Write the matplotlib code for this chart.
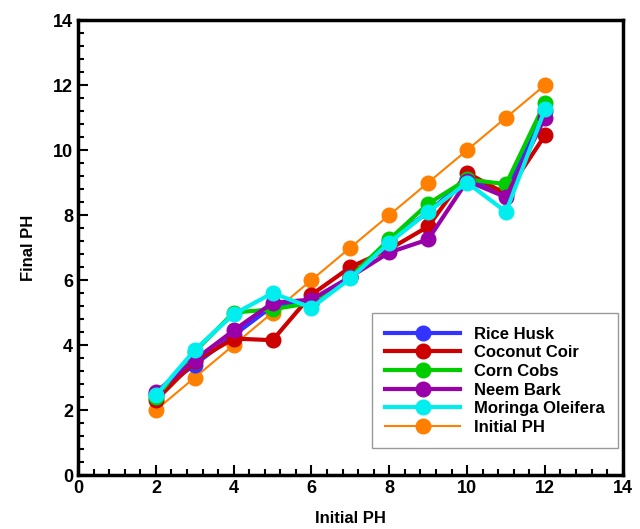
import matplotlib.pyplot as plt
from matplotlib.ticker import MultipleLocator

plt.rcParams["font.family"] = ["Liberation Sans", "DejaVu Sans"]
plt.rcParams["font.weight"] = "bold"

initial_ph = [2, 3, 4, 5, 6, 7, 8, 9, 10, 11, 12]

rice_husk = [2.5, 3.4, 4.3, 5.2, 5.3, 6.1, 7.2, 8.1, 9.1, 8.7, 11.2]
coconut_coir = [2.3, 3.5, 4.2, 4.15, 5.55, 6.4, 6.95, 7.65, 9.3, 8.65, 10.45]
corn_cobs = [2.4, 3.8, 5.0, 5.1, 5.3, 6.1, 7.25, 8.35, 9.1, 8.95, 11.45]
neem_bark = [2.55, 3.55, 4.45, 5.3, 5.4, 6.1, 6.85, 7.25, 9.05, 8.55, 11.0]
moringa_oleifera = [2.45, 3.85, 4.95, 5.6, 5.15, 6.05, 7.15, 8.1, 9.0, 8.1, 11.25]

series = [
    ("Rice Husk", rice_husk, "#3333ff"),
    ("Coconut Coir", coconut_coir, "#cc0000"),
    ("Corn Cobs", corn_cobs, "#00cc00"),
    ("Neem Bark", neem_bark, "#9900aa"),
    ("Moringa Oleifera", moringa_oleifera, "#00eeee"),
]

fig = plt.figure(figsize=(6.4, 5.29), dpi=100)
ax = fig.add_axes([0.122, 0.102, 0.851, 0.86])

for name, vals, col in series:
    ax.plot(initial_ph, vals, "-o", color=col, lw=3, ms=10.5, label=name, zorder=3)

# line of equality (initial pH)
ax.plot(initial_ph, initial_ph, "-o", color="#ff8000", lw=1.5, ms=10.5,
        label="Initial PH", zorder=2)

ax.set_xlim(0, 14)
ax.set_ylim(0, 14)
ax.xaxis.set_major_locator(MultipleLocator(2))
ax.yaxis.set_major_locator(MultipleLocator(2))
ax.xaxis.set_minor_locator(MultipleLocator(0.4))
ax.yaxis.set_minor_locator(MultipleLocator(0.4))
ax.tick_params(which="both", direction="in", width=1.5, labelsize=13)
ax.tick_params(which="major", length=7)
ax.tick_params(which="minor", length=4)
for s in ax.spines.values():
    s.set_linewidth(2.5)

ax.set_xlabel("Initial PH", fontsize=12, fontweight="bold", labelpad=10)
ax.set_ylabel("Final PH", fontsize=12, fontweight="bold", labelpad=12)

leg = ax.legend(loc="lower right", bbox_to_anchor=(0.991, 0.059), fontsize=12,
                handlelength=4.5, handletextpad=0.8, fancybox=False,
                edgecolor="#999999", framealpha=1, borderpad=0.8,
                borderaxespad=0, labelspacing=0.22)
leg.get_frame().set_linewidth(1)

plt.savefig("out.png")
plt.close()
